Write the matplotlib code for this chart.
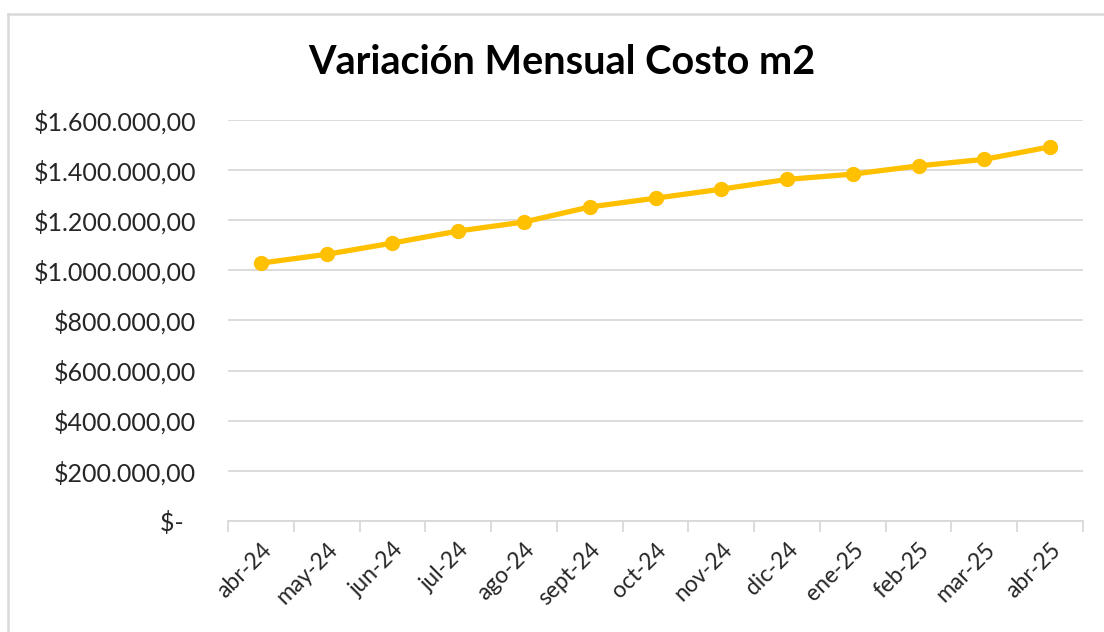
import matplotlib
matplotlib.use('Agg')
import matplotlib.pyplot as plt
import matplotlib.ticker as ticker
from matplotlib.lines import Line2D

matplotlib.rcParams['font.family'] = ['Lato', 'DejaVu Sans']

months = ['abr-24', 'may-24', 'jun-24', 'jul-24', 'ago-24', 'sept-24', 'oct-24',
          'nov-24', 'dic-24', 'ene-25', 'feb-25', 'mar-25', 'abr-25']
costo_m2 = [1029000, 1064000, 1109000, 1157000, 1193000, 1253000, 1288000,
            1324000, 1363000, 1384000, 1417000, 1443000, 1493000]
y_ticks = [0, 200000, 400000, 600000, 800000, 1000000, 1200000, 1400000, 1600000]
title = 'Variación Mensual Costo m2'


def peso_fmt(v, pos):
    if v == 0:
        return '$-  '
    s = '{:,.2f}'.format(v)  # 1,600,000.00
    s = s.replace(',', 'X').replace('.', ',').replace('X', '.')
    return '$' + s


W, H = 1104, 632
fig = plt.figure(figsize=(W / 100, H / 100), dpi=100)
ax = fig.add_axes([228 / W, 1 - 521 / H, (1083 - 228) / W, (521 - 120) / H])

x = list(range(len(months)))
ax.plot(x, costo_m2, color='#FFC000', lw=3.8, marker='o', markersize=10,
        solid_capstyle='round', zorder=3)

ax.set_xlim(-0.5, len(months) - 0.5)
ax.set_ylim(0, 1600000)
ax.set_yticks(y_ticks)
ax.yaxis.set_major_formatter(ticker.FuncFormatter(peso_fmt))
ax.grid(axis='y', color='#D9D9D9', lw=1.3)
ax.set_axisbelow(True)

ax.set_xticks(x)
ax.set_xticklabels(months, rotation=45, ha='right', rotation_mode='anchor')
ax.set_xticks([i - 0.5 for i in range(len(months) + 1)], minor=True)
ax.tick_params(axis='x', which='major', length=0, pad=13, labelsize=16.5, colors='#262626')
ax.tick_params(axis='x', which='minor', length=8, width=1.3, color='#D9D9D9')
ax.tick_params(axis='y', length=0, pad=23, labelsize=18, colors='#262626')
for lab in ax.get_xticklabels():
    lab.set_x(lab.get_position()[0])

for side in ['top', 'right', 'left']:
    ax.spines[side].set_visible(False)
ax.spines['bottom'].set_color('#D9D9D9')
ax.spines['bottom'].set_linewidth(1.3)

fig.text(562 / W, 1 - 62 / H, title, ha='center', va='center',
         fontsize=28.5, fontweight='bold', color='#000000')

# chart border (only left and top visible in the crop)
fig.add_artist(Line2D([8 / W, 8 / W], [0, 1 - 14 / H], transform=fig.transFigure,
                      color='#D9D9D9', lw=1.8))
fig.add_artist(Line2D([8 / W, 1], [1 - 14 / H, 1 - 14 / H], transform=fig.transFigure,
                      color='#D9D9D9', lw=1.8))

plt.savefig('out.png', dpi=100)
